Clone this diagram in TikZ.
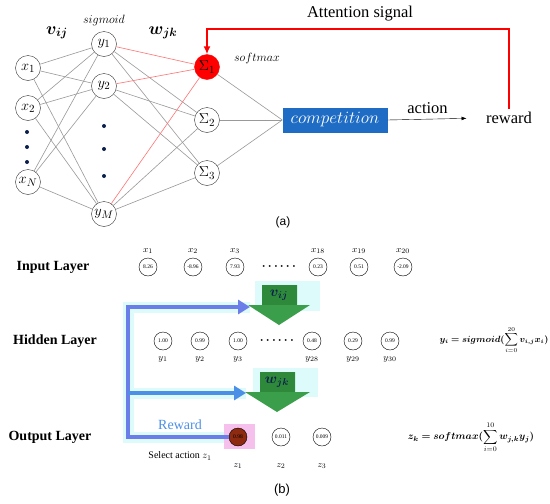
\documentclass[tikz,border=0pt]{standalone}
\usepackage{fontspec}
\setmainfont{Liberation Serif}
\newfontfamily\arialf{Liberation Sans}
\usepackage{amsmath,bm}
\usetikzlibrary{arrows.meta,positioning,calc}
\definecolor{compblue}{HTML}{1F6CC4}
\definecolor{navy}{HTML}{0B1F4D}
\definecolor{rewblue}{HTML}{4C8FE6}
\definecolor{vertblue}{HTML}{6A7DE8}
\definecolor{garrow}{HTML}{3A9E4A}
\definecolor{gbody}{HTML}{2E8A3A}
\definecolor{glow}{HTML}{DDFBFB}
\definecolor{zred}{HTML}{8E2A10}
\definecolor{zpink}{HTML}{F6C0EC}

\begin{document}
\begin{tikzpicture}[x=1pt,y=-1pt,>=Latex,
  neuron/.style={circle,draw=black!80,minimum size=25pt,inner sep=0pt,font=\fontsize{15}{15}\selectfont},
  cell/.style={circle,draw,minimum size=18pt,inner sep=0pt,font=\fontsize{5.5}{5.5}\selectfont},
  link/.style={gray!80,line width=0.6pt},
  lbl/.style={font=\fontsize{9.5}{9.5}\selectfont,inner sep=1pt},
  layername/.style={font=\fontsize{14}{14}\selectfont\bfseries},
  blueline/.style={rewblue,line width=4pt},
  glowline/.style={glow,line width=11pt}]
\fill[white] (0,0) rectangle (550,504);
\useasboundingbox (0,0) rectangle (550,504);

% (a) network
\node[neuron] (x1) at (28,68) {$x_1$};
\node[neuron] (x2) at (28,108) {$x_2$};
\node[neuron] (xN) at (28,182) {$x_N$};
\node[neuron] (y1) at (104,44) {$y_1$};
\node[neuron] (y2) at (104,86) {$y_2$};
\node[neuron] (yM) at (104,214) {$y_M$};
\node[neuron,fill=red,draw=red] (s1) at (207,67) {$\Sigma_1$};
\node[neuron] (s2) at (207,120) {$\Sigma_2$};
\node[neuron] (s3) at (207,173) {$\Sigma_3$};
\foreach \py in {132,147,162} \fill[navy] (27,\py) circle (2pt);
\foreach \py in {126,149,176} \fill[navy] (104,\py) circle (2pt);
\foreach \a in {x1,x2,xN} \foreach \b in {y1,y2,yM} \draw[link] (\a) -- (\b);
\foreach \a in {y1,y2,yM} {
  \draw[link,red!55] (\a) -- (s1);
  \draw[link] (\a) -- (s2);
  \draw[link] (\a) -- (s3);
}
\node[font=\fontsize{12.5}{12.5}\selectfont] (sigl) at (104,20) {$sigmoid$};
\node (vl) at (57,33) {\fontsize{17}{17}\selectfont$\bm{v_{ij}}$};
\node (wl) at (163,33) {\fontsize{17}{17}\selectfont$\bm{w_{jk}}$};
\node[font=\fontsize{12.5}{12.5}\selectfont] (softl) at (257,58) {$softmax$};

\node[fill=compblue,text=white,minimum width=105pt,minimum height=25pt,inner sep=1pt,font=\fontsize{17}{17}\selectfont] (comp) at (335,120) {$competition$};
\foreach \a in {s1,s2,s3} \draw[link] (\a) -- (comp.west);
\node[font=\fontsize{16.5}{16.5}\selectfont] (rew) at (509,118) {reward};
\draw[-{Latex[length=5pt]},shorten >=16pt] (comp.east) -- (rew.west)
  node[pos=0.42,above=2pt,font=\fontsize{16.5}{16.5}\selectfont]{action};
\coordinate (ctop) at (0,29);
\draw[red,line width=2.5pt,-{Latex[length=8pt,width=7pt]}] (rew.north) -- (rew.north |- ctop) -| (s1.north);
\node[font=\fontsize{16.5}{16.5}\selectfont] (attn) at (360,14) {Attention signal};
\node[font=\arialf\fontsize{12}{12}\selectfont] (capa) at (283,222) {(a)};

% (b) example
\node[layername] (inl) at (53,267) {Input Layer};
\node[layername] (hidl) at (55,341) {Hidden Layer};
\node[layername] (outl) at (50,437) {Output Layer};

\coordinate (bt) at (128,307);
\coordinate (bm) at (128,393);
\coordinate (bb) at (128,437);
\coordinate (vin) at (250,307);
\coordinate (win) at (246,393);
\fill[glow] (255,281) rectangle (320,311);
\fill[glow] (253,368) rectangle (318,397);
\draw[glowline] (vin) -- (bt) -- (bb) -- (226,437);
\draw[glowline] (bm) -- (win);
\fill[zpink] (224,424) rectangle (255,449);

\fill[garrow] (262,285) -- (297,285) -- (297,305) -- (310,305) -- (279,325) -- (248,305) -- (262,305) -- cycle;
\fill[gbody] (262,285) rectangle (297,305);
\node[text=navy] (vij) at (279,295) {\fontsize{14}{14}\selectfont$\bm{v_{ij}}$};
\fill[garrow] (260,372) -- (295,372) -- (295,392) -- (310,392) -- (277,412) -- (245,392) -- (260,392) -- cycle;
\fill[gbody] (260,372) rectangle (295,392);
\node[text=navy] (wjk) at (277,382) {\fontsize{14}{14}\selectfont$\bm{w_{jk}}$};

\foreach \v/\px/\k in {8.26/148/1,-8.96/193/2,7.93/235/3,0.23/318/18,0.51/359/19,-2.09/403/20} {
  \node[cell] (in\k) at (\px,267) {\v};
  \node[lbl,above=3pt of in\k] (inlab\k) {$x_{\k}$};
}
\foreach \v/\px/\k in {1.00/163/1,0.99/200/2,1.00/238/3,0.48/312/28,0.29/353/29,0.99/390/30} {
  \node[cell] (hid\k) at (\px,341) {\v};
  \node[lbl,below=5pt of hid\k] (hidlab\k) {$y_{\k}$};
}
\node[font=\fontsize{12}{12}\selectfont] (din) at (280,267) {$\bm{\cdots\,\cdots}$};
\node[font=\fontsize{12}{12}\selectfont] (dhid) at (278,341) {$\bm{\cdots\,\cdots}$};

\node[cell,fill=zred] (z1) at (238,437) {0.98};
\node[cell] (z2) at (281,437) {0.011};
\node[cell] (z3) at (322,437) {0.009};
\foreach \k in {1,2,3} \node[lbl,below=16pt of z\k] (zlab\k) {$z_{\k}$};

\draw[vertblue,line width=4pt,{Triangle[length=12pt,width=14pt]}-] (vin) -- (bt) -- (bb) -- (z1.west);
\draw[blueline,-{Triangle[length=12pt,width=14pt]}] (bm) -- (win);
\node[text=rewblue,font=\fontsize{14}{14}\selectfont] (rwd) at (180,425) {Reward};
\node[font=\fontsize{10}{10}\selectfont] (sel) at (180,456) {Select action $z_1$};

\node[font=\fontsize{9}{9}\selectfont] (eqy) at (494,340) {$\displaystyle \bm{y_i = sigmoid(}\sum_{i=0}^{20}\bm{v_{i,j}x_i)}$};
\node[font=\fontsize{10}{10}\selectfont] (eqz) at (471,437) {$\displaystyle \bm{z_k = softmax(}\sum_{i=0}^{10}\bm{w_{j,k}y_j)}$};
\node[font=\arialf\fontsize{13}{13}\selectfont] (capb) at (282,490) {(b)};
\end{tikzpicture}
\end{document}
